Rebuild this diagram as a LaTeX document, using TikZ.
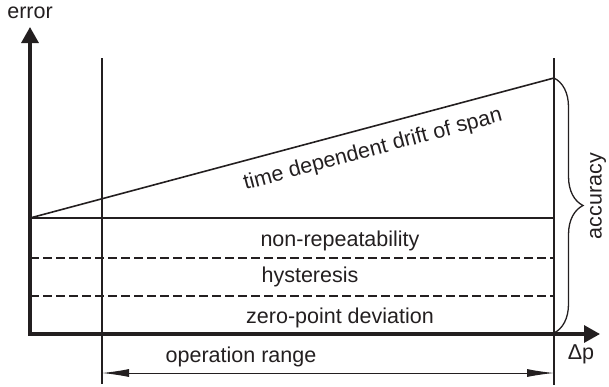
\documentclass[tikz,border=0pt]{standalone}
\usepackage{fontspec}
\setmainfont{Liberation Sans}
\usetikzlibrary{arrows.meta,decorations.pathreplacing}
\definecolor{ink}{RGB}{35,31,32}
\begin{document}
\begin{tikzpicture}[x=1pt,y=-1pt,
  lbl/.style={inner sep=0pt,text=ink,font=\fontsize{21.5}{25}\selectfont},
  axisline/.style={draw=ink,line width=3.2pt,-{Triangle[length=16pt,width=17pt]}},
  thinline/.style={draw=ink,line width=1.6pt},
  dashline/.style={draw=ink,line width=1.6pt,dash pattern=on 9pt off 4pt},
  rangearrow/.style={draw=ink,line width=1pt,{Latex[length=27pt,width=8pt]}-{Latex[length=27pt,width=8pt]}},
  bracestyle/.style={draw=ink,line width=1.3pt,decorate,decoration={brace,amplitude=29pt}}]
\useasboundingbox (0,0) rectangle (609,386);
% coordinates
\coordinate (O) at (30,334);
\coordinate (Ytip) at (30,27);
\coordinate (Xtip) at (600,334);
\coordinate (Ltop) at (102,58);
\coordinate (Lbot) at (102,384);
\coordinate (Rtop) at (554,58);
\coordinate (Rbot) at (554,385);
\coordinate (S0) at (30,218);
\coordinate (S1) at (554,218);
\coordinate (D1) at (554,78);
\coordinate (H1a) at (30,258);
\coordinate (H1b) at (554,258);
\coordinate (H2a) at (30,296);
\coordinate (H2b) at (554,296);
\coordinate (RA) at (102,373);
\coordinate (RB) at (554,373);
\coordinate (Bbot) at (554,333);
% vertical guide lines
\draw[thinline] (Ltop) -- (Lbot);
\draw[thinline] (Rtop) -- (Rbot);
% levels
\draw[thinline] (S0) -- (S1);
\draw[thinline] (S0) -- (D1);
\draw[dashline] (H1a) -- (H1b);
\draw[dashline] (H2a) -- (H2b);
% axes
\draw[axisline] ([yshift=-1.6pt]O) -- (Ytip);
\draw[axisline] ([xshift=-1.6pt]O) -- (Xtip);
% brace
\draw[bracestyle] (D1) -- (Bbot);
% range arrow
\draw[rangearrow] (RA) -- (RB);
% labels
\node[lbl] (err) at (30,13) {error};
\node[lbl,rotate=15] (drift) at (373,150) {time dependent drift of span};
\node[lbl] (nr) at (340,241) {non-repeatability};
\node[lbl] (hy) at (310,277) {hysteresis};
\node[lbl] (zp) at (340,318) {zero-point deviation};
\node[lbl] (op) at (241,357) {operation range};
\node[lbl] (dp) at (581,354) {Δp};
\node[lbl,rotate=90] (acc) at (598,196) {accuracy};
\end{tikzpicture}
\end{document}
